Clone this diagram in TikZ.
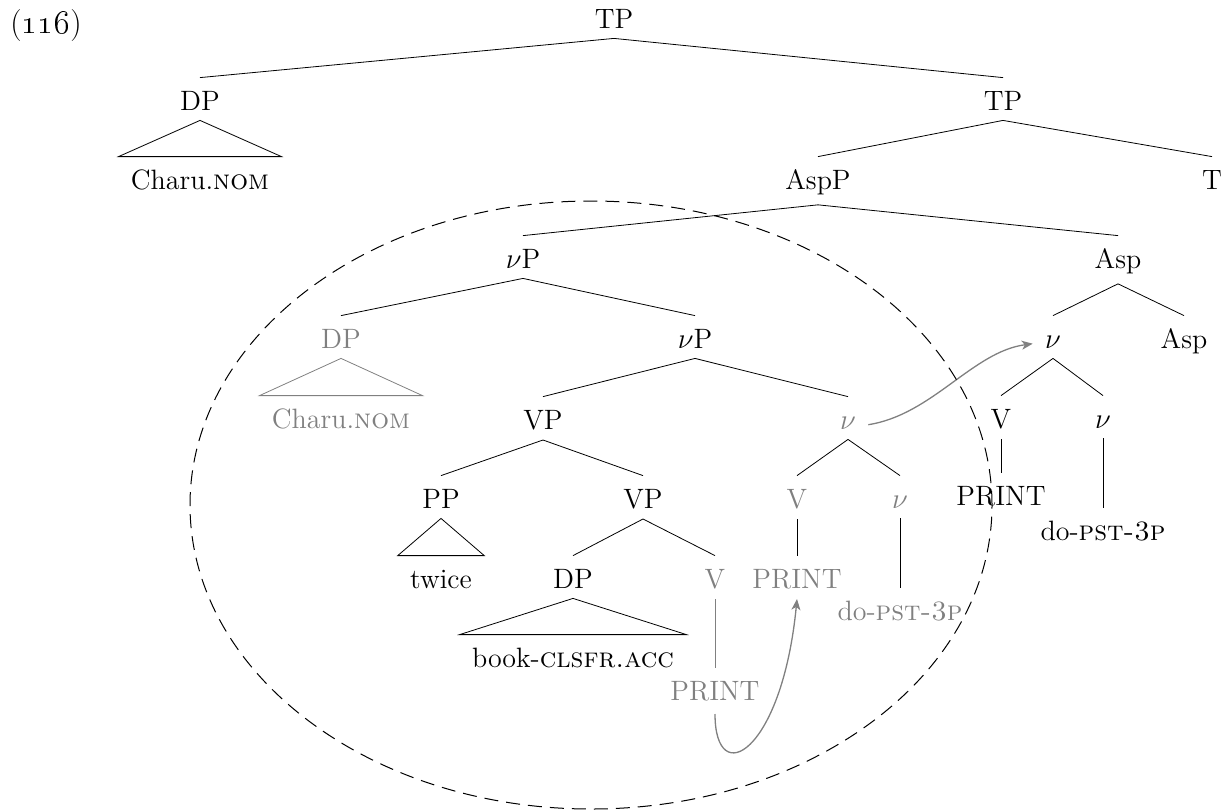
\documentclass[tikz,border=0pt]{standalone}
\usetikzlibrary{arrows.meta}
\begin{document}
\begin{tikzpicture}[x=0.5pt,y=-0.5pt,
  n/.style={anchor=base, inner xsep=6pt, inner ysep=5pt, text height=11pt, font=\fontsize{14}{16}\selectfont},
  g/.style={n, text=gray},
  roof/.style={draw=black, line width=0.4pt},
  groof/.style={draw=gray, line width=0.4pt},
  branch/.style={draw=black, line width=0.4pt},
  gbranch/.style={draw=gray, line width=0.4pt},
  mv/.style={draw=gray, line width=0.65pt, -{Stealth[length=5.5pt,width=4.5pt,inset=1.5pt]}},
  phase/.style={draw=black, line width=0.5pt, dash pattern=on 7pt off 4pt}
]
\useasboundingbox (0,0) rectangle (1230,810);

\node[anchor=base west, inner sep=0pt, font=\fontsize{16}{18}\selectfont] (ex) at (10,33) {(\oldstylenums{116})};

% nodes
\node[n] (tp) at (614,28) {TP};
\node[n] (dp1) at (200,110) {DP};
\node[n] (tp2) at (1003,110) {TP};
\node[n] (charu1) at (200,189) {Charu.\textsc{nom}};
\node[n] (aspp) at (818,189) {AspP};
\node[n] (t) at (1212,189) {T};
\node[n] (vp1) at (523,268) {$\nu$P};
\node[n] (asp1) at (1118,268) {Asp};
\node[g] (dpg) at (341,348) {DP};
\node[n] (vp2) at (695,348) {$\nu$P};
\node[n] (nu1) at (1053,348) {$\nu$};
\node[n] (asp2) at (1184,348) {Asp};
\node[g] (charug) at (341,428) {Charu.\textsc{nom}};
\node[n] (vp3) at (543,429) {VP};
\node[g] (nug) at (848,429) {$\nu$};
\node[n] (v1) at (1001,428) {V};
\node[n] (nu2) at (1103,428) {$\nu$};
\node[n] (pp) at (441,508) {PP};
\node[n] (vp4) at (643,508) {VP};
\node[g] (vg1) at (797,508) {V};
\node[g] (nug2) at (900,508) {$\nu$};
\node[n] (print1) at (1001,505) {PRINT};
\node[n] (twice) at (441,588) {twice};
\node[n] (dp3) at (573,588) {DP};
\node[g] (vg2) at (715,588) {V};
\node[g] (printg1) at (797,588) {PRINT};
\node[n] (do1) at (1103,540) {do-\textsc{pst-3p}};
\node[n] (book) at (573,667) {book-\textsc{clsfr.acc}};
\node[g] (printg2) at (715,700) {PRINT};
\node[g] (dog) at (900,620) {do-\textsc{pst-3p}};

% branches
\draw[branch] (tp.south) -- (dp1.north);
\draw[branch] (tp.south) -- (tp2.north);
\draw[roof] (dp1.south) -- (charu1.north west) -- (charu1.north east) -- cycle;
\draw[branch] (tp2.south) -- (aspp.north);
\draw[branch] (tp2.south) -- (t.north);
\draw[branch] (aspp.south) -- (vp1.north);
\draw[branch] (aspp.south) -- (asp1.north);
\draw[branch] (vp1.south) -- (dpg.north);
\draw[branch] (vp1.south) -- (vp2.north);
\draw[groof] (dpg.south) -- (charug.north west) -- (charug.north east) -- cycle;
\draw[branch] (vp2.south) -- (vp3.north);
\draw[branch] (vp2.south) -- (nug.north);
\draw[branch] (vp3.south) -- (pp.north);
\draw[branch] (vp3.south) -- (vp4.north);
\draw[roof] (pp.south) -- (twice.north west) -- (twice.north east) -- cycle;
\draw[branch] (vp4.south) -- (dp3.north);
\draw[branch] (vp4.south) -- (vg2.north);
\draw[roof] (dp3.south) -- (book.north west) -- (book.north east) -- cycle;
\draw[gbranch] (vg2.south) -- (printg2.north);
\draw[branch] (nug.south) -- (vg1.north);
\draw[branch] (nug.south) -- (nug2.north);
\draw[branch] (vg1.south) -- (printg1.north);
\draw[branch] (nug2.south) -- (dog.north);
\draw[branch] (asp1.south) -- (nu1.north);
\draw[branch] (asp1.south) -- (asp2.north);
\draw[branch] (nu1.south) -- (v1.north);
\draw[branch] (nu1.south) -- (nu2.north);
\draw[branch] (v1.south) -- (print1.north);
\draw[branch] (nu2.south) -- (do1.north);

% movement arrows
\draw[mv] (nug.mid east) .. controls +(64,-10) and +(-60,8) .. (nu1.mid west);
\draw[mv] ([yshift=-1.5pt]printg2.south) .. controls +(0,77) and +(-15,154) .. (printg1.south);

% phase ellipse
\draw[phase] (591,505) ellipse [x radius=200.5pt, y radius=152pt];
\end{tikzpicture}
\end{document}
